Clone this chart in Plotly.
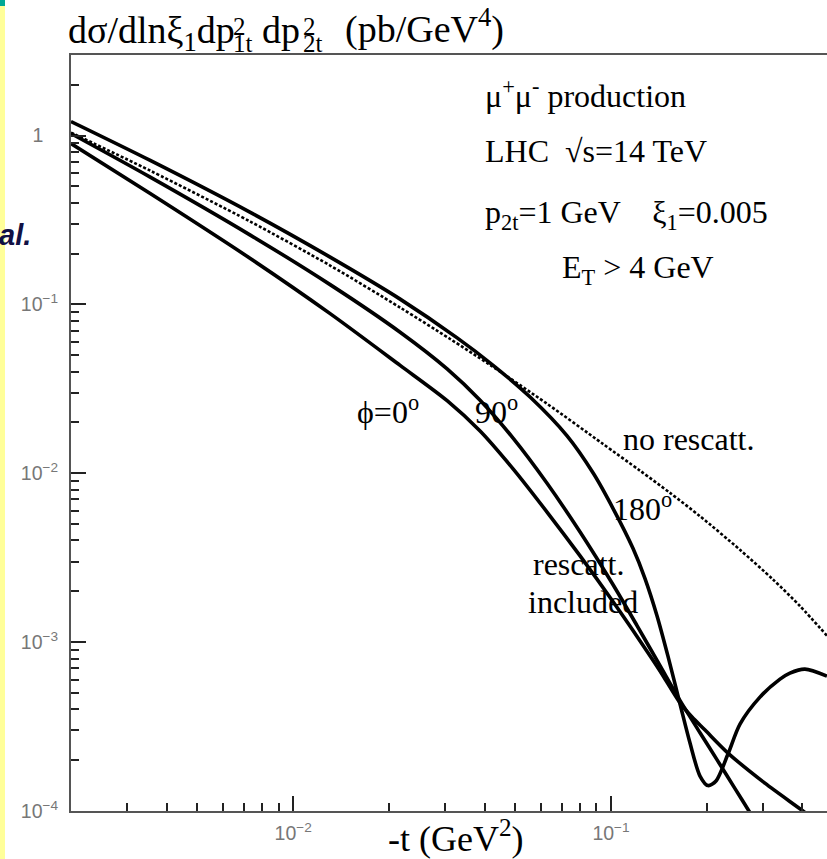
import math
import plotly.graph_objects as go

# ---------------- data ----------------
t_nores = [0.0020, 0.00355, 0.00733, 0.01307, 0.0217, 0.03118, 0.04165, 0.0629,
           0.09372, 0.1234, 0.1533, 0.1905, 0.2545, 0.3232, 0.3930, 0.4778]
s_nores = [1.042, 0.6197, 0.3094, 0.1699, 0.09587, 0.06240, 0.04380, 0.02581,
           0.01505, 0.01036, 0.007656, 0.005567, 0.003522, 0.002350, 0.001637, 0.001092]

t_phi0 = [0.0020, 0.00355, 0.00733, 0.01307, 0.0217, 0.0305, 0.03873, 0.04918, 0.0629,
          0.07992, 0.1015, 0.1234, 0.1426, 0.1649, 0.1798, 0.1976, 0.2333, 0.3049, 0.4016,
          0.4543]
s_phi0 = [0.897, 0.4537, 0.1871, 0.08822, 0.04356, 0.02693, 0.01780, 0.01062, 0.005894,
          0.003240, 0.001734, 0.001017, 0.0006755, 0.0004367, 0.0003599, 0.0003014,
          0.0002204, 0.0001461, 0.0001, 0.0000838]

t_phi90 = [0.0020, 0.00355, 0.00733, 0.01307, 0.0217, 0.0305, 0.03873, 0.04918, 0.0629,
           0.07992, 0.1015, 0.1207, 0.1426, 0.1649, 0.1905, 0.2156, 0.2455, 0.2736, 0.2941]
s_phi90 = [1.028, 0.5673, 0.2574, 0.1310, 0.06846, 0.04152, 0.02707, 0.01615, 0.008727,
           0.004488, 0.002186, 0.001253, 0.0007251, 0.0004500, 0.0002910, 0.0002009,
           0.0001357, 0.0000978, 0.0000787]

t_phi180 = [0.0020, 0.00355, 0.00733, 0.01307, 0.0217, 0.0328, 0.04256, 0.05563, 0.07273,
            0.08805, 0.1015, 0.1173, 0.1279, 0.1395, 0.1511, 0.1649, 0.1772, 0.1905, 0.2019,
            0.2139, 0.2333, 0.2545, 0.2941, 0.3401, 0.3654, 0.4074, 0.4778]
s_phi180 = [1.21, 0.7121, 0.3507, 0.1905, 0.1075, 0.06334, 0.04360, 0.02828, 0.01665,
            0.009959, 0.006181, 0.003584, 0.002381, 0.001435, 0.000824, 0.000429,
            0.0002526, 0.0001611, 0.0001414, 0.0001505, 0.0002175, 0.0003271, 0.0004726,
            0.0006041, 0.0006556, 0.0006923, 0.0006292]

x_major = [0.01, 0.1]
x_major_text = ["10<sup>\u22122</sup>", "10<sup>\u22121</sup>"]
x_minor = [0.003, 0.004, 0.005, 0.006, 0.007, 0.008, 0.009,
           0.02, 0.03, 0.04, 0.05, 0.06, 0.07, 0.08, 0.09, 0.2, 0.3, 0.4]
y_major = [1e-4, 1e-3, 1e-2, 1e-1, 1]
y_major_text = ["10<sup>\u22124</sup>", "10<sup>\u22123</sup>", "10<sup>\u22122</sup>",
                "10<sup>\u22121</sup>", "1\u00a0\u00a0\u2009"]
y_minor = [m * 10.0 ** k for k in range(-4, 0) for m in range(2, 10)] + [2]

x_range = [0.002, 0.478]
y_range = [1e-4, 3]

# ---------------- layout helpers ----------------
W, H = 827, 859
L, R, T, B = 71, 0, 55, 48
PW, PH = W - L - R, H - T - B
SERIF = "Liberation Serif, Times New Roman, serif"
SANS = "Liberation Sans, Arial, sans-serif"


def px_x(px):
    return (px - L) / PW


def px_y(py):
    return (H - B - py) / PH


def label(text, px, baseline, size, xanchor="left", family=SERIF, color="black",
          has_sub=False, **font_kw):
    desc = (0.361 if has_sub else 0.216) * size
    return dict(text=text, x=px_x(px), y=px_y(baseline + desc), xref="paper", yref="paper",
                xanchor=xanchor, yanchor="bottom", showarrow=False, borderpad=0,
                borderwidth=0, font=dict(family=family, size=size, color=color, **font_kw))


fig = go.Figure()
line_solid = dict(color="black", width=3.6, shape="spline", smoothing=0.8)
fig.add_trace(go.Scatter(x=t_nores, y=s_nores, mode="lines", name="no rescatt.",
                         line=dict(color="black", width=2.6, dash="3px,2px",
                                   shape="spline", smoothing=0.8)))
fig.add_trace(go.Scatter(x=t_phi0, y=s_phi0, mode="lines", name="phi=0", line=line_solid))
fig.add_trace(go.Scatter(x=t_phi90, y=s_phi90, mode="lines", name="phi=90", line=line_solid))
fig.add_trace(go.Scatter(x=t_phi180, y=s_phi180, mode="lines", name="phi=180", line=line_solid))

tickfont = dict(family=SANS, size=19.5, color="#777777")
axis_common = dict(type="log", showgrid=False, zeroline=False, showline=True,
                   linecolor="#555555", linewidth=2, ticks="inside", ticklen=15,
                   tickwidth=2, tickcolor="#222222", tickfont=tickfont, tickmode="array")

fig.update_xaxes(range=[math.log10(x_range[0]), math.log10(x_range[1])],
                 tickvals=x_major, ticktext=x_major_text, mirror=True,
                 ticklabelstandoff=4,
                 minor=dict(tickmode="array", tickvals=x_minor, ticks="inside", ticklen=8,
                            tickwidth=2, tickcolor="#222222", showgrid=False),
                 **axis_common)
fig.update_yaxes(range=[math.log10(y_range[0]), math.log10(y_range[1])],
                 tickvals=y_major, ticktext=y_major_text, mirror=False,
                 ticklabelstandoff=7,
                 minor=dict(tickmode="array", tickvals=y_minor, ticks="inside", ticklen=8,
                            tickwidth=2, tickcolor="#222222", showgrid=False),
                 **axis_common)

ann = [
    # title with stacked super/subscripts
    label("d\u03c3/dln\u03be<sub>1</sub>dp", 68, 43, 38, has_sub=True),
    label("2", 233, 35, 25),
    label("1t", 233, 52, 25),
    label("dp", 262, 43, 38),
    label("2", 303, 35, 25),
    label("2t", 303, 52, 25),
    label("(pb/GeV<sup>4</sup>)", 345, 43, 38),
    # x-axis title
    label("-t (GeV<sup>2</sup>)", 456, 851, 36, xanchor="center"),
    # info text
    label("\u03bc<sup>+</sup>\u03bc<sup>-</sup> production", 485, 107, 32),
    label("LHC \u00a0\u221as=14 TeV", 485, 162, 32),
    label("p<sub>2t</sub>=1 GeV \u00a0\u00a0\u00a0\u03be<sub>1</sub>=0.005", 485, 223, 32,
          has_sub=True),
    label("E<sub>T</sub> > 4 GeV", 562, 278, 32, has_sub=True),
    # curve labels
    label("\u03d5=0<sup>o</sup>", 357, 423, 32),
    label("90<sup>o</sup>", 475, 423, 32),
    label("no rescatt.", 623, 450, 32),
    label("180<sup>o</sup>", 613, 520, 32),
    label("rescatt.", 533, 575, 32),
    label("included", 528, 613, 32),
    # slide fragment at the left edge
    label("al.", 31, 245, 29, xanchor="right", family=SANS, color="#111144",
          style="italic", weight="bold"),
]

shapes = [
    dict(type="rect", xref="paper", yref="paper", x0=px_x(0), x1=px_x(5),
         y0=px_y(H), y1=px_y(0), fillcolor="#ffff99", line=dict(width=0), layer="below"),
    dict(type="rect", xref="paper", yref="paper", x0=px_x(0), x1=px_x(5),
         y0=px_y(6), y1=px_y(0), fillcolor="#00a896", line=dict(width=0), layer="below"),
]

fig.update_layout(width=W, height=H, margin=dict(l=L, r=R, t=T, b=B, pad=0),
                  paper_bgcolor="white", plot_bgcolor="white", showlegend=False,
                  annotations=ann, shapes=shapes)

fig.write_html("out.html")
